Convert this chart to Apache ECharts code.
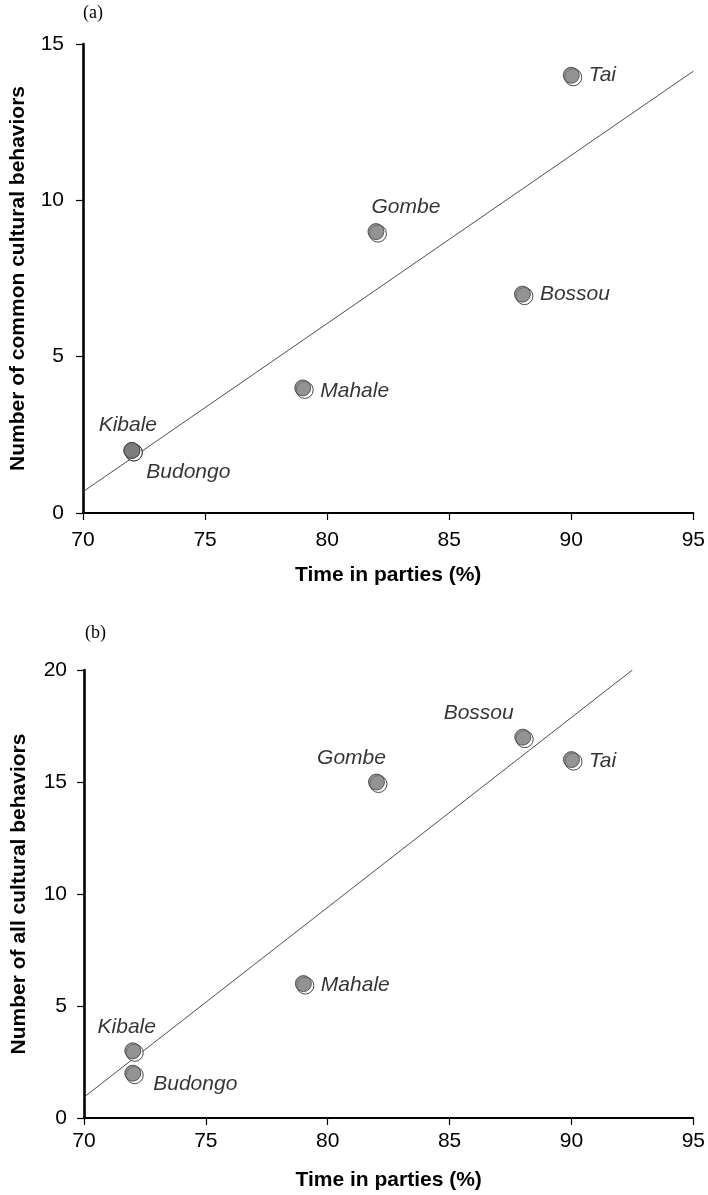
<!DOCTYPE html>
<html>
<head>
<meta charset="utf-8">
<script src="https://cdn.jsdelivr.net/npm/echarts@6/dist/echarts.min.js"></script>
<style>
  html, body { margin: 0; padding: 0; background: #ffffff; }
  #chart { width: 708px; height: 1195px; }
</style>
</head>
<body>
<div id="chart"></div>
<script>
// Chimpanzee field sites: party time vs. number of cultural behaviours
const sites = ['Tai', 'Gombe', 'Bossou', 'Mahale', 'Kibale', 'Budongo'];
const timeInParties = [90, 82, 88, 79, 72, 72];
const commonBehaviors = [14, 9, 7, 4, 2, 2];
const allBehaviors = [16, 15, 17, 6, 3, 2];

// Axis ticks
const xTicks = [70, 75, 80, 85, 90, 95];
const yTicksCommon = [0, 5, 10, 15];
const yTicksAll = [0, 5, 10, 15, 20];

// Fitted regression lines (end points)
const fitCommon = [[70, 0.68], [95, 14.13]];
const fitAll = [[70, 0.93], [92.5, 20]];

const FONT = '"Liberation Sans", Arial, Helvetica, sans-serif';
const FS = 21;

// Where each site's name sits around its marker, per panel
const labelPlacementA = {
  Tai:     { position: 'right', distance: 9 },
  Gombe:   { position: 'top', distance: 5, offset: [30, 0] },
  Bossou:  { position: 'right', distance: 9 },
  Mahale:  { position: 'right', distance: 9, offset: [0, 3] },
  Kibale:  { position: 'top', distance: 6, offset: [-4, 0] },
  Budongo: { position: 'right', distance: 6, offset: [0, 22] }
};
const labelPlacementB = {
  Tai:     { position: 'right', distance: 9, offset: [0, 2] },
  Gombe:   { position: 'top', distance: 5, offset: [-25, 0] },
  Bossou:  { position: 'top', distance: 5, offset: [-44, 0] },
  Mahale:  { position: 'right', distance: 9, offset: [0, 2] },
  Kibale:  { position: 'top', distance: 5, offset: [-6, 0] },
  Budongo: { position: 'right', distance: 12, offset: [0, 11] }
};

function points(yValues, placement) {
  return sites.map((name, i) => ({
    name: name,
    value: [timeInParties[i], yValues[i]],
    label: Object.assign({ show: true }, placement[name])
  }));
}
function rings(yValues) {
  return sites.map((name, i) => ({ name: name, value: [timeInParties[i], yValues[i]] }));
}

function xAxis(gridIndex, labelMargin) {
  return {
    type: 'value', gridIndex: gridIndex, min: 70, max: 95, interval: 5,
    name: 'Time in parties (%)', nameLocation: 'middle', nameGap: 52,
    nameTextStyle: { fontFamily: FONT, fontSize: FS, fontWeight: 'bold', color: '#000' },
    axisLine: { show: true, onZero: false, lineStyle: { color: '#000', width: 2 } },
    axisTick: { show: true, inside: false, length: 7, lineStyle: { color: '#000', width: 1.2 } },
    axisLabel: { margin: labelMargin, fontFamily: FONT, fontSize: FS, color: '#000',
      formatter: v => xTicks.includes(v) ? String(v) : '' },
    splitLine: { show: false }
  };
}
function yAxis(gridIndex, max, ticks, title, labelMargin) {
  return {
    type: 'value', gridIndex: gridIndex, min: 0, max: max, interval: 5,
    name: title, nameLocation: 'middle', nameGap: 54,
    nameTextStyle: { fontFamily: FONT, fontSize: FS, fontWeight: 'bold', color: '#000' },
    axisLine: { show: true, onZero: false, lineStyle: { color: '#000', width: 2.6 } },
    axisTick: { show: true, inside: false, length: 7, lineStyle: { color: '#000', width: 1.2 } },
    axisLabel: { margin: labelMargin, fontFamily: FONT, fontSize: FS, color: '#000',
      formatter: v => ticks.includes(v) ? String(v) : '' },
    splitLine: { show: false }
  };
}

const labelStyle = {
  fontFamily: FONT, fontSize: FS, fontStyle: 'italic', color: '#000',
  formatter: '{b}'
};

function panelSeries(idx, yValues, fit, placement) {
  return [
    {
      type: 'line', xAxisIndex: idx, yAxisIndex: idx, data: fit,
      symbol: 'none', silent: true, z: 1,
      lineStyle: { color: '#3a3a3a', width: 0.9 }
    },
    {
      // offset open ring drawn behind each marker
      type: 'scatter', xAxisIndex: idx, yAxisIndex: idx, data: rings(yValues),
      symbol: 'circle', symbolSize: 17, symbolOffset: [2, 2], z: 2,
      itemStyle: { color: '#ffffff', borderColor: '#1a1a1a', borderWidth: 1 }
    },
    {
      type: 'scatter', xAxisIndex: idx, yAxisIndex: idx, data: points(yValues, placement),
      symbol: 'circle', symbolSize: 16, z: 3,
      itemStyle: { color: '#787878', borderColor: '#3c3c3c', borderWidth: 1 },
      label: labelStyle
    }
  ];
}

const chart = echarts.init(document.getElementById('chart'), null, { renderer: 'canvas' });
chart.setOption({
  animation: false,
  backgroundColor: '#ffffff',
  grid: [
    { left: 82, top: 44, width: 613, height: 469 },
    { left: 84, top: 670, width: 613, height: 448 }
  ],
  xAxis: [xAxis(0, 17), xAxis(1, 13)],
  yAxis: [
    yAxis(0, 15, yTicksCommon, 'Number of common cultural behaviors', 19),
    yAxis(1, 20, yTicksAll, 'Number of all cultural behaviors', 17)
  ],
  graphic: [
    { type: 'text', left: 83, top: 4,
      style: { text: '(a)', font: '18px "Liberation Serif", "Times New Roman", serif', fill: '#000' } },
    { type: 'text', left: 85, top: 624,
      style: { text: '(b)', font: '18px "Liberation Serif", "Times New Roman", serif', fill: '#000' } }
  ],
  series: [
    ...panelSeries(0, commonBehaviors, fitCommon, labelPlacementA),
    ...panelSeries(1, allBehaviors, fitAll, labelPlacementB)
  ]
});
</script>
</body>
</html>
